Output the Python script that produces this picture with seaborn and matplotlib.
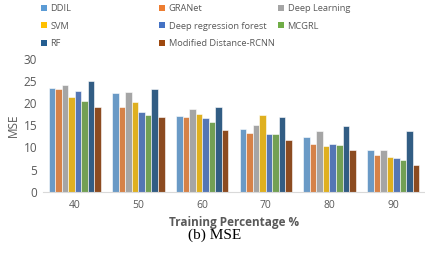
import pandas as pd
import seaborn as sns
import matplotlib.pyplot as plt
from matplotlib.patches import Patch

# Training percentages on the x axis
training_pct = ["40", "50", "60", "70", "80", "90"]

methods = ["DDIL", "GRANet", "Deep Learning", "SVM", "Deep regression forest",
           "MCGRL", "RF", "Modified Distance-RCNN"]

# MSE per method
ddil = [23.4, 22.4, 17.1, 14.3, 12.4, 9.4]
granet = [23.3, 19.2, 17.0, 13.4, 10.9, 8.4]
deep_learning = [24.2, 22.5, 18.7, 15.0, 13.8, 9.4]
svm = [21.4, 20.3, 17.7, 17.4, 10.4, 7.9]
deep_regression_forest = [22.8, 18.0, 16.6, 13.1, 10.9, 7.5]
mcgrl = [20.6, 17.4, 15.8, 13.1, 10.5, 7.2]
rf = [25.2, 23.2, 19.3, 16.9, 14.8, 13.7]
modified_distance_rcnn = [19.2, 17.0, 14.0, 11.6, 9.4, 6.0]

colors = ["#5B9BD5", "#ED7D31", "#A5A5A5", "#FFC000", "#4472C4",
          "#70AD47", "#255E91", "#9E480E"]

series = [ddil, granet, deep_learning, svm, deep_regression_forest,
          mcgrl, rf, modified_distance_rcnn]
rows = []
for name, vals in zip(methods, series):
    for pct, v in zip(training_pct, vals):
        rows.append({"Training": pct, "MSE": v, "Method": name})
df = pd.DataFrame(rows)

sns.set_theme(style="white")
plt.rcParams["font.family"] = ["Open Sans", "DejaVu Sans"]

fig = plt.figure(figsize=(4.25, 2.54), dpi=100)
ax = fig.add_axes([0.101, 0.246, 0.899, 0.52])

sns.barplot(data=df, x="Training", y="MSE", hue="Method", hue_order=methods,
            order=training_pct, palette=colors, width=0.82, ax=ax,
            edgecolor="white", linewidth=0.4, legend=False)

ax.set_ylim(0, 30)
ax.set_yticks(range(0, 31, 5))
ax.set_xlim(-0.5, 5.5)
for s in ["top", "right", "left"]:
    ax.spines[s].set_visible(False)
ax.spines["bottom"].set_color("#D9D9D9")
ax.spines["bottom"].set_linewidth(0.8)
ax.tick_params(axis="both", length=0, labelsize=7.5, colors="#595959", pad=6)
ax.tick_params(axis="y", labelsize=8.5, pad=4)
ax.set_ylabel("MSE", fontsize=8.5, color="#595959", labelpad=3)
ax.set_xlabel("Training Percentage %", fontsize=8.5, color="#595959",
              fontweight="bold", labelpad=4)

# legend laid out row by row in three fixed columns, like the original
handles = [Patch(facecolor=c, edgecolor="none") for c in colors]
col_x = [0.088, 0.366, 0.646]
for i, x in enumerate(col_x):
    idx = list(range(i, len(methods), 3))
    leg = fig.legend([handles[j] for j in idx], [methods[j] for j in idx],
                     loc="upper left", bbox_to_anchor=(x, 0.997), frameon=False,
                     fontsize=6.7, handlelength=0.6, handleheight=0.6,
                     handletextpad=0.4, labelspacing=0.88, borderaxespad=0,
                     labelcolor="#595959")

fig.text(0.505, 0.074, "(b) MSE", ha="center", va="center", fontsize=11,
         family=["Liberation Serif"], color="black")

fig.savefig("out.png", dpi=100)
